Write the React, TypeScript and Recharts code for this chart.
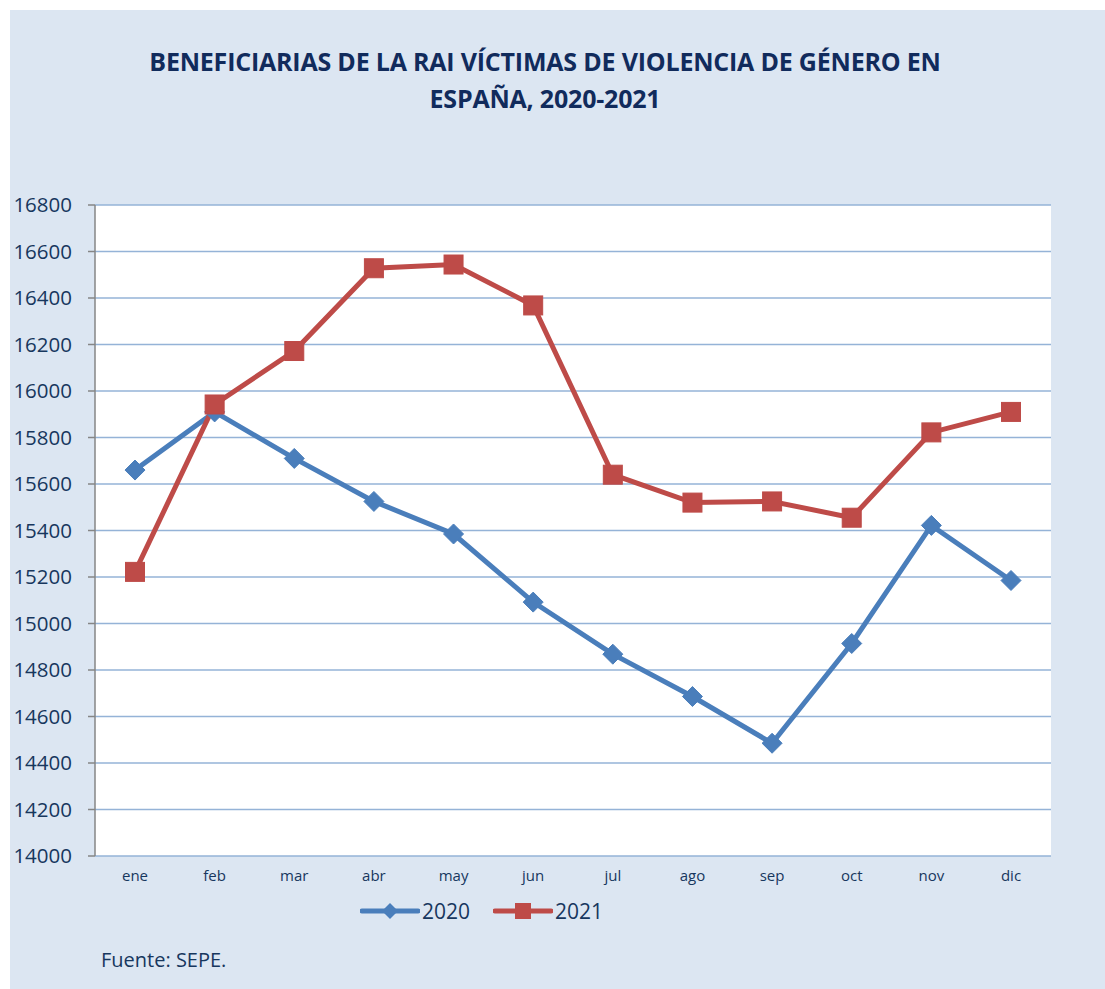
import React from "react";
import { LineChart, Line, XAxis, YAxis, CartesianGrid } from "recharts";

const months = ["ene", "feb", "mar", "abr", "may", "jun", "jul", "ago", "sep", "oct", "nov", "dic"];
const values2020 = [15660, 15910, 15710, 15525, 15385, 15092, 14868, 14686, 14485, 14914, 15422, 15185];
const values2021 = [15222, 15942, 16172, 16528, 16544, 16368, 15640, 15520, 15525, 15455, 15822, 15910];
const yTicks = [14000, 14200, 14400, 14600, 14800, 15000, 15200, 15400, 15600, 15800, 16000, 16200, 16400, 16600, 16800];
const sepTicks = [0, 1, 2, 3, 4, 5, 6, 7, 8, 9, 10, 11, 12];
const seriesNames = ["2020", "2021"];

const BLUE = "#4A7EBB";
const RED = "#BE4B48";
const TEXT = "#17375E";
const FONT = "'Open Sans', sans-serif";

const data = months.map((m, i) => ({ month: m, v2020: values2020[i], v2021: values2021[i] }));

const Diamond = (props: any) => {
  const { cx, cy } = props;
  if (cx == null || cy == null) return null;
  const r = 10;
  return <polygon points={`${cx},${cy - r} ${cx + r},${cy} ${cx},${cy + r} ${cx - r},${cy}`} fill={BLUE} stroke={BLUE} strokeWidth={1} />;
};

const Square = (props: any) => {
  const { cx, cy } = props;
  if (cx == null || cy == null) return null;
  const s = 19;
  return <rect x={cx - s / 2} y={cy - s / 2} width={s} height={s} fill={RED} stroke={RED} strokeWidth={1} />;
};

export default function App() {
  return (
    <div style={{ position: "absolute", left: 0, top: 0, width: 1105, height: 989, background: "#ffffff", fontFamily: FONT }}>
      <div style={{ position: "absolute", left: 10, top: 10, width: 1095, height: 979, background: "#DCE6F2" }} />
      <div
        style={{
          position: "absolute",
          left: 0,
          top: 43,
          width: 1090,
          textAlign: "center",
          fontWeight: 700,
          fontSize: 25,
          lineHeight: "37px",
          color: "#112B5C",
          letterSpacing: -0.2,
        }}
      >
        BENEFICIARIAS DE LA RAI VÍCTIMAS DE VIOLENCIA DE GÉNERO EN
        <br />
        ESPAÑA, 2020-2021
      </div>
      <div style={{ position: "absolute", left: 0, top: 0 }}>
        <LineChart width={1105} height={989} data={data} margin={{ top: 205, right: 54, left: 0, bottom: 103 }}>
          <CartesianGrid vertical={false} stroke="#95B3D7" strokeWidth={1.5} fill="#ffffff" />
          <XAxis
            xAxisId="sep"
            type="number"
            domain={[0, 12]}
            ticks={sepTicks}
            tick={false}
            tickSize={7}
            height={0}
            axisLine={{ stroke: "#868686", strokeWidth: 1.5 }}
            tickLine={{ stroke: "#868686", strokeWidth: 1.5 }}
          />
          <XAxis
            xAxisId="cat"
            dataKey="month"
            padding={{ left: 40, right: 40 }}
            axisLine={false}
            tickLine={false}
            tickMargin={8}
            height={30}
            interval={0}
            tick={{ fill: TEXT, fontSize: 15, fontFamily: FONT }}
          />
          <YAxis
            width={95}
            domain={[14000, 16800]}
            ticks={yTicks}
            interval={0}
            tickSize={7}
            tickMargin={16}
            axisLine={{ stroke: "#868686", strokeWidth: 1.5 }}
            tickLine={{ stroke: "#868686", strokeWidth: 1.5 }}
            tick={{ fill: TEXT, fontSize: 20.5, fontFamily: FONT }}
          />
          <Line xAxisId="cat" dataKey="v2020" name={seriesNames[0]} stroke={BLUE} strokeWidth={5} dot={<Diamond />} isAnimationActive={false} />
          <Line xAxisId="cat" dataKey="v2021" name={seriesNames[1]} stroke={RED} strokeWidth={5} dot={<Square />} isAnimationActive={false} />
        </LineChart>
      </div>
      <div style={{ position: "absolute", left: 360, top: 896, display: "flex", alignItems: "center", color: TEXT, fontSize: 21 }}>
        <svg width={60} height={24}>
          <line x1={2} y1={12} x2={58} y2={12} stroke={BLUE} strokeWidth={5} strokeLinecap="round" />
          <polygon points="30,4 38,12 30,20 22,12" fill={BLUE} />
        </svg>
        <span style={{ marginLeft: 2, lineHeight: "30px" }}>{seriesNames[0]}</span>
        <svg width={60} height={24} style={{ marginLeft: 23 }}>
          <line x1={2} y1={12} x2={58} y2={12} stroke={RED} strokeWidth={5} strokeLinecap="round" />
          <rect x={22} y={4} width={16} height={16} fill={RED} />
        </svg>
        <span style={{ marginLeft: 2, lineHeight: "30px" }}>{seriesNames[1]}</span>
      </div>
      <div style={{ position: "absolute", left: 101, top: 946, color: TEXT, fontSize: 20, lineHeight: "28px" }}>Fuente: SEPE.</div>
    </div>
  );
}
